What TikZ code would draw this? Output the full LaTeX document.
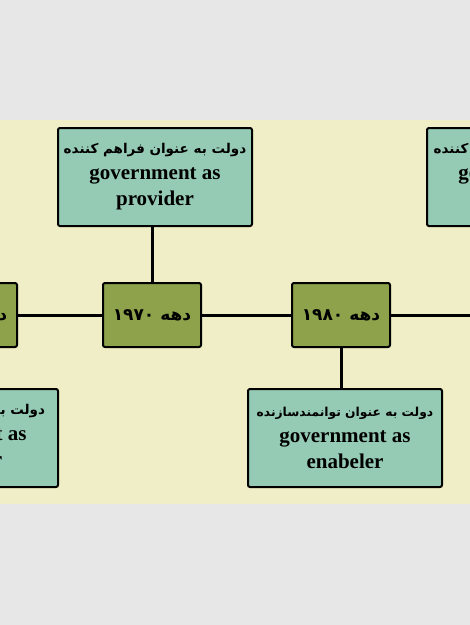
\documentclass[tikz,border=0pt]{standalone}
\usepackage{fontspec}
\setmainfont{Liberation Serif}
\newfontfamily\arabicfont[Script=Arabic]{DejaVu Sans}
\TeXXeTstate=1
\usetikzlibrary{positioning}
\definecolor{pagegray}{HTML}{E7E7E7}
\definecolor{bandyellow}{HTML}{F0EEC6}
\definecolor{decadegreen}{HTML}{8DA24B}
\definecolor{roleteal}{HTML}{95CBB5}
\newcommand{\fa}[1]{{\arabicfont\bfseries\beginR #1\endR}}
\newcommand{\faline}[2][13.5]{{\fontsize{#1}{16}\selectfont\fa{#2}}}
\tikzset{
  decade/.style={draw=black, line width=2pt, rounded corners=2pt, fill=decadegreen,
    minimum width=98pt, minimum height=64pt, inner sep=0pt,
    font=\fontsize{17}{20}\selectfont},
  role/.style={draw=black, line width=2pt, rounded corners=2pt, fill=roleteal,
    minimum width=194pt, minimum height=98pt, inner sep=0pt, align=center,
    font=\fontsize{21}{26}\selectfont\bfseries},
  link/.style={line width=3pt}
}
\begin{document}
\begin{tikzpicture}[x=1pt, y=-1pt]
\useasboundingbox (0,0) rectangle (470,625);
\clip (0,0) rectangle (470,625);
\fill[pagegray] (0,0) rectangle (470,625);
\fill[bandyellow] (0,120) rectangle (470,504);
% decades
\node[decade] (d70) at (152,315) {\fa{دهه \beginL۱۹۷۰\endL}};
\node[decade, left=84pt of d70] (d60) {\fa{دهه \beginL۱۹۶۰\endL}};
\node[decade, right=89pt of d70] (d80) {\fa{دهه \beginL۱۹۸۰\endL}};
\node[decade, right=89pt of d80] (d90) {\fa{دهه \beginL۱۹۹۰\endL}};
\draw[link] (d60) -- (d70) -- (d80) -- (d90);
% roles
\node[role, below=40pt of d60, xshift=-7pt] (p60) {\faline{دولت به عنوان تولیدکننده}\\ government as\\ producer};
\node[role, above=55pt of d70, xshift=3pt] (p70) {\faline{دولت به عنوان فراهم کننده}\\ government as\\ provider};
\node[role, below=40pt of d80, xshift=4pt] (p80) {\faline[12.3]{دولت به عنوان توانمندسازنده}\\ government as\\ enabeler};
\node[role, above=55pt of d90, xshift=-6pt] (p90) {\faline{دولت به عنوان تنظیم کننده}\\ government as\\ regulator};
\draw[link] (d60.south) -- (d60.south |- p60.north);
\draw[link] (d70.north) -- (d70.north |- p70.south);
\draw[link] (d80.south) -- (d80.south |- p80.north);
\draw[link] (d90.north) -- (d90.north |- p90.south);
\end{tikzpicture}
\end{document}
